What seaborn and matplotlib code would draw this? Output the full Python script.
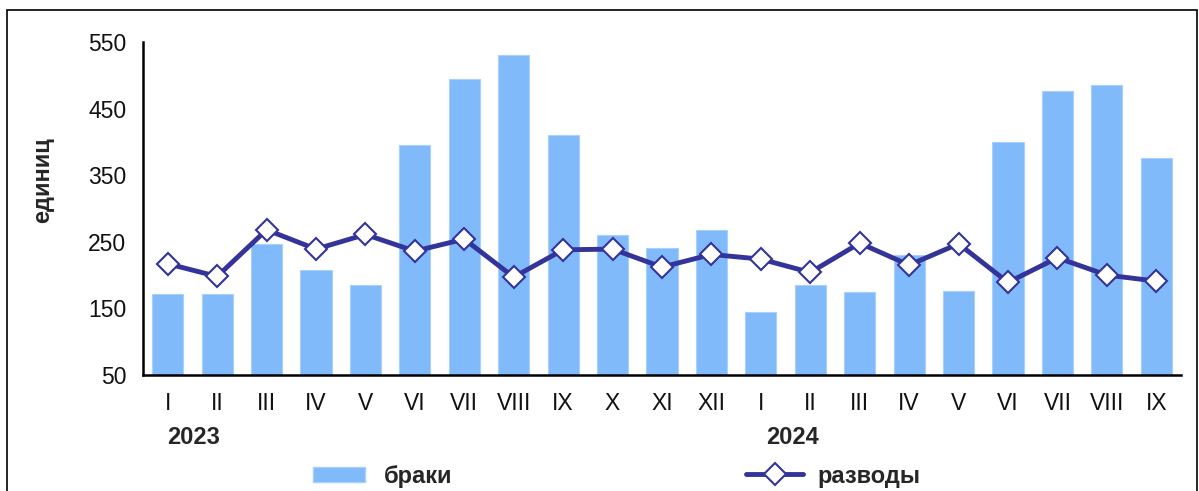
import matplotlib
matplotlib.use("Agg")
import matplotlib.pyplot as plt
import seaborn as sns
import pandas as pd
import numpy as np
from matplotlib.patches import Rectangle, Patch
from matplotlib.lines import Line2D

months = ["I", "II", "III", "IV", "V", "VI", "VII", "VIII", "IX", "X", "XI", "XII",
          "I", "II", "III", "IV", "V", "VI", "VII", "VIII", "IX"]
years = ["2023", "2024"]
year_positions = [0.52, 12.65]
marriages = [172, 172, 246, 208, 185, 395, 494, 530, 410, 260, 240, 267,
             144, 185, 174, 230, 176, 400, 476, 486, 376]
divorces = [217, 198, 268, 239, 261, 236, 254, 197, 238, 239, 212, 231,
            224, 204, 248, 215, 247, 189, 226, 200, 191]
yticks = [50, 150, 250, 350, 450, 550]

sns.set_theme(style="white")
plt.rcParams['font.family'] = ['Liberation Sans', 'DejaVu Sans']

BAR = "#80BAFA"
LINE = "#333399"

df = pd.DataFrame({
    "key": [f"{i:02d}" for i in range(len(months))],
    "pos": np.arange(len(months)),
    "marriages": marriages,
    "divorces": divorces,
})

fig = plt.figure(figsize=(11.99, 4.91), dpi=100)
ax = fig.add_axes([143/1199, 1-375/491, (1181-143)/1199, (375-42)/491])

sns.barplot(data=df, x="key", y="marriages", color=BAR, width=0.63,
            edgecolor="#A8D0FF", linewidth=0.8, saturation=1, ax=ax)
sns.lineplot(data=df, x="pos", y="divorces", color=LINE, linewidth=3.5,
             marker="D", markersize=11, markerfacecolor="white",
             markeredgecolor=LINE, markeredgewidth=1.5, sort=False, ax=ax)

ax.set_xlim(-0.5, len(months) - 0.5)
ax.set_ylim(50, 550)
ax.set_yticks(yticks)
ax.set_yticklabels([str(v) for v in yticks], fontsize=16.5, color="#111111")
ax.set_xticks(np.arange(len(months)))
ax.set_xticklabels(months, fontsize=16.5, color="#111111")
ax.set_xticks(np.arange(-0.5, len(months)), minor=True)
ax.tick_params(axis="x", which="major", length=0, pad=12)
ax.tick_params(axis="x", which="minor", length=7, width=1.8, direction="out", color="black")
ax.tick_params(axis="y", which="major", length=6, width=1.8, direction="out", color="black", pad=6)
ax.set_xlabel("")
ax.set_ylabel("единиц", fontsize=17, fontweight="bold")
ax.yaxis.set_label_coords((54-143)/(1181-143), 0.585)
for s in ["top", "right"]:
    ax.spines[s].set_visible(False)
for s in ["left", "bottom"]:
    ax.spines[s].set_color("black")
    ax.spines[s].set_linewidth(1.8)
ax.grid(False)

for yr, p in zip(years, year_positions):
    ax.text(p, -0.187, yr, transform=ax.get_xaxis_transform(), ha="center", va="center",
            fontsize=17, fontweight="bold")

# border
fig.patches.append(Rectangle((7/1199, -0.05), (1197-7)/1199, 1-10/491+0.05,
                             transform=fig.transFigure, fill=False, edgecolor="black",
                             linewidth=1.2))

h1 = Patch(facecolor=BAR, edgecolor="#A8D0FF")
h2 = Line2D([], [], color=LINE, linewidth=3.5, marker="D", markersize=11,
            markerfacecolor="white", markeredgecolor=LINE, markeredgewidth=1.5)
fig.legend([h1], ["браки"], loc="center left", bbox_to_anchor=(292/1199, 1-476/491),
           frameon=False, prop={"size": 17, "weight": "bold"}, handlelength=2.2,
           handleheight=0.6, handletextpad=0.8)
fig.legend([h2], ["разводы"], loc="center left", bbox_to_anchor=(725/1199, 1-476/491),
           frameon=False, prop={"size": 17, "weight": "bold"}, handlelength=2.4,
           handletextpad=0.6)

fig.savefig("out.png", dpi=100)
